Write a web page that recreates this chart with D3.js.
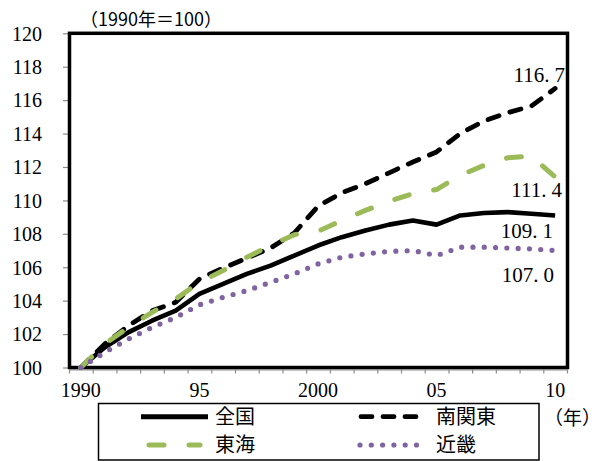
<!DOCTYPE html>
<html><head><meta charset="utf-8">
<script src="https://cdn.jsdelivr.net/npm/d3@7"></script>
<style>
html,body{margin:0;padding:0;background:#fff;}
svg{display:block;}
text{font-family:"Liberation Serif","Noto Sans CJK JP",serif;fill:#000;}
.cjk{font-family:"Noto Sans CJK JP","Liberation Serif",sans-serif;}
</style></head>
<body>
<script>
const years = d3.range(1990, 2011);
const national = [100, 101.2, 102.1, 102.8, 103.4, 104.4, 105.0, 105.6, 106.1, 106.7, 107.3, 107.8, 108.2, 108.55, 108.8, 108.55, 109.1, 109.25, 109.3, 109.2, 109.1];
const minamiKanto = [100, 101.4, 102.5, 103.4, 103.9, 105.3, 105.95, 106.55, 107.15, 108.05, 109.65, 110.45, 111.0, 111.65, 112.3, 112.9, 114.0, 114.75, 115.25, 115.65, 116.7];
const tokai = [100, 101.4, 102.4, 103.3, 104.1, 105.1, 105.8, 106.6, 107.3, 107.95, 108.15, 108.8, 109.4, 109.95, 110.4, 110.65, 111.5, 112.1, 112.55, 112.65, 111.4];
const kinki = [100, 100.9, 101.7, 102.4, 103.0, 103.75, 104.2, 104.6, 105.1, 105.6, 106.2, 106.6, 106.8, 106.95, 107.0, 106.7, 107.2, 107.2, 107.15, 107.1, 107.0];
const seriesNames = ["全国", "南関東", "東海", "近畿"];
const endLabels = ["109.1", "116.7", "111.4", "107.0"];
const xTickLabels = {1990: "1990", 1995: "95", 2000: "2000", 2005: "05", 2010: "10"};
const yTicks = d3.range(100, 121, 2);
const unitLabel = "（1990年＝100）";
const yearUnit = "（年）";

const W = 603, H = 461;
const L = 69, R = 567, T = 33.3, B = 367.5;
const svg = d3.select("body").append("svg").attr("width", W).attr("height", H);

const x = d3.scalePoint().domain(years).range([L, R]).padding(0.5);
const xEdge = d3.scaleLinear().domain([0, years.length]).range([L, R]);
const y = d3.scaleLinear().domain([100, 120]).range([B, T]);

const styles = [
  {color: "#000", width: 4.6, dash: null, cap: "butt"},
  {color: "#000", width: 4.8, dash: "11.5,11.5", cap: "round"},
  {color: "#9BBB59", width: 5, dash: "15,25", cap: "round"},
  {color: "#8064A2", width: 5.2, dash: "0,11.3", cap: "round"}
];
const data = [national, minamiKanto, tokai, kinki];

// axes (gray ticks)
const gx = svg.append("g").attr("transform", `translate(0,${B + 2})`)
  .call(d3.axisBottom(xEdge).tickValues(d3.range(0, years.length + 1)).tickFormat("").tickSize(4).tickSizeOuter(0));
gx.selectAll("line").attr("stroke", "#8c8c8c").attr("stroke-width", 1.2);
gx.select(".domain").attr("stroke", "#8c8c8c").attr("stroke-width", 1.2);

const gy = svg.append("g").attr("transform", `translate(${L - 1},0)`)
  .call(d3.axisLeft(y).tickValues(yTicks).tickSize(5).tickPadding(21).tickSizeOuter(0));
gy.selectAll("line").attr("stroke", "#8c8c8c").attr("stroke-width", 1.2);
gy.select(".domain").attr("stroke", "#8c8c8c");
gy.selectAll("text").attr("font-size", 20).attr("font-family", "Liberation Serif").attr("dy", "0.34em");

// x labels
svg.append("g").selectAll("text").data(years.filter(d => xTickLabels[d])).join("text")
  .attr("x", d => x(d)).attr("y", 397).attr("text-anchor", "middle").attr("font-size", 20)
  .text(d => xTickLabels[d]);

// frame
svg.append("rect").attr("x", L + 0.5).attr("y", T).attr("width", R - L).attr("height", B - T)
  .attr("fill", "none").attr("stroke", "#000").attr("stroke-width", 3.5);

// lines
const line = d3.line().x((d, i) => x(years[i])).y(d => y(d)).curve(d3.curveLinear);
data.forEach((vals, k) => {
  const s = styles[k];
  svg.append("path").datum(vals).attr("d", line).attr("fill", "none")
    .attr("stroke", s.color).attr("stroke-width", s.width).attr("stroke-linecap", s.cap)
    .attr("stroke-linejoin", "round").attr("stroke-dasharray", s.dash);
});
// end labels
const endPos = [{dx: 553, y: 238}, {dx: 565, y: 82}, {dx: 562, y: 197}, {dx: 554, y: 281.5}];
endLabels.forEach((t, k) => {
  const parts = t.split(".");
  const tx = svg.append("text").attr("x", endPos[k].dx).attr("y", endPos[k].y)
    .attr("text-anchor", "end").attr("font-size", 21);
  tx.append("tspan").text(parts[0] + ".");
  tx.append("tspan").attr("dx", 5).text(parts[1]);
});

// unit label
svg.append("text").attr("class", "cjk").attr("x", 80).attr("y", 26).attr("font-size", 18)
  .text(unitLabel);
svg.append("text").attr("class", "cjk").attr("x", 544).attr("y", 425).attr("font-size", 19)
  .text(yearUnit);

// legend
svg.append("rect").attr("x", 98.5).attr("y", 403.5).attr("width", 440.5).attr("height", 56.5)
  .attr("fill", "#fff").attr("stroke", "#000").attr("stroke-width", 1.5);
const legPos = [{x1: 141, x2: 208, y: 416.7, tx: 215}, {x1: 361, x2: 418, y: 416.7, tx: 436}, {x1: 149, x2: 200, y: 445, tx: 215}, {x1: 360, x2: 418, y: 445, tx: 436}];
legPos.forEach((p, k) => {
  const s = styles[k];
  svg.append("line").attr("x1", p.x1).attr("x2", p.x2).attr("y1", p.y).attr("y2", p.y)
    .attr("stroke", s.color).attr("stroke-width", s.width + (k === 0 ? 0.5 : 0)).attr("stroke-linecap", s.cap)
    .attr("stroke-dasharray", k === 1 ? "11,11" : k === 2 ? "15,25" : k === 3 ? "0,11.3" : null);
  svg.append("text").attr("class", "cjk").attr("x", p.tx).attr("y", p.y).attr("dy", "0.36em")
    .attr("font-size", 20).text(seriesNames[k]);
});
</script>
</body></html>
